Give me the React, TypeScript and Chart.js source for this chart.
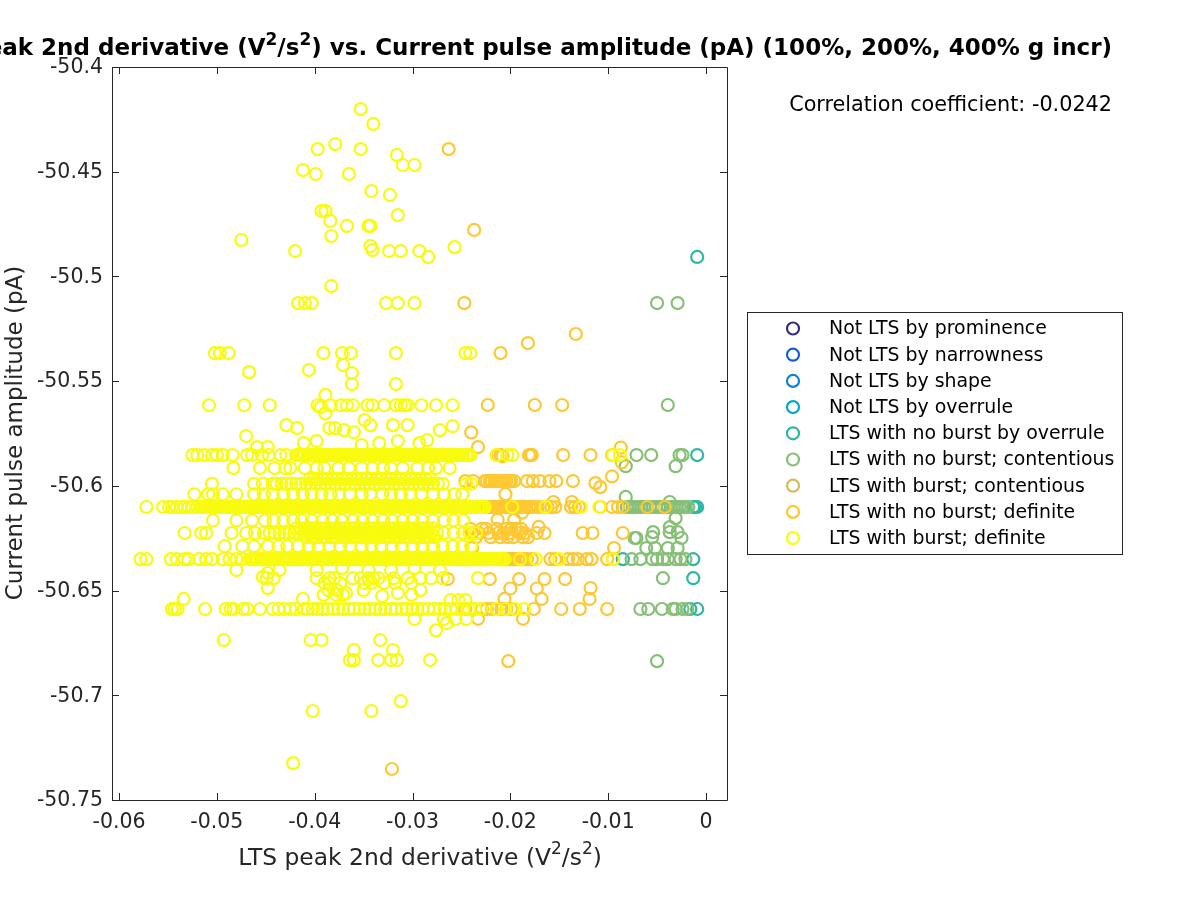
import React, { useEffect, useRef } from "react";
import { Chart, registerables } from "chart.js";
Chart.register(...registerables);

const FONT = '"DejaVu Sans"';
const seriesNames = ["Not LTS by prominence","Not LTS by narrowness","Not LTS by shape","Not LTS by overrule","LTS with no burst by overrule","LTS with no burst; contentious","LTS with burst; contentious","LTS with no burst; definite","LTS with burst; definite"];
const seriesColors = ["#352a87","#0f5cdd","#1481d6","#06a4ca","#2eb7a4","#87bf77","#d1bb59","#fec832","#f9fb0e"];
const xTickValues = [-0.06,-0.05,-0.04,-0.03,-0.02,-0.01,0];
const yTickValues = [-50.4,-50.45,-50.5,-50.55,-50.6,-50.65,-50.7,-50.75];

// burst; definite rows (y level, x values)
const yellowRow635 = [-.0578,-.0572,-.0547,-.0541,-.0533,-.0529,-.0518,-.0511,-.0505,-.0494,-.0487,-.048,-.0474,-.0466,-.0462,-.0458,-.0453,-.0449,-.0445,-.044,-.0436,-.0431,-.0427,-.0424,-.0419,-.0414,-.041,-.0406,-.0401,-.0397,-.0392,-.0388,-.0385,-.0379,-.0375,-.0371,-.0366,-.0362,-.0358,-.0353,-.0349,-.0345,-.034,-.0336,-.0332,-.0327,-.0323,-.0319,-.0314,-.031,-.0306,-.0301,-.0297,-.0293,-.0288,-.0284,-.028,-.0275,-.0271,-.0267,-.0262,-.0258,-.0254,-.0249,-.0245,-.0241,-.0236,-.0232,-.0228,-.0223,-.0219,-.0215,-.021,-.0206,-.019,-.0174,-.015,-.0095];
const yellowRow635b = [-.0464,-.046,-.0455,-.0451,-.0447,-.0442,-.0438,-.0433,-.0429,-.0425,-.0421,-.0416,-.0412,-.0408,-.0403,-.0399,-.0394,-.039,-.0386,-.0382,-.0377,-.0373,-.0368,-.0364,-.036,-.0355,-.0351,-.0347,-.0342,-.0338,-.0334,-.0329,-.0325,-.0321,-.0316,-.0312,-.0308,-.0303,-.0299,-.0295,-.029,-.0286,-.0282,-.0277,-.0273,-.0269,-.0264,-.026,-.0256,-.0251,-.0247,-.0243,-.0238,-.0234,-.023,-.0225,-.0221,-.0217,-.0212,-.0208];
const yellowRow611 = [-.0572,-.0555,-.0549,-.0546,-.0541,-.0537,-.0533,-.0529,-.0525,-.052,-.0516,-.0512,-.0507,-.0503,-.0499,-.0494,-.049,-.0486,-.0481,-.0477,-.0473,-.0468,-.0464,-.046,-.0455,-.0451,-.0447,-.0442,-.0438,-.0434,-.0429,-.0425,-.0421,-.0416,-.0412,-.0408,-.0403,-.0399,-.0395,-.039,-.0386,-.0382,-.0377,-.0373,-.0369,-.0364,-.036,-.0356,-.0351,-.0347,-.0343,-.0338,-.0334,-.033,-.0325,-.0321,-.0317,-.0312,-.0308,-.0304,-.0299,-.0295,-.0291,-.0286,-.0282,-.0278,-.0273,-.0269,-.0265,-.026,-.0256,-.0252,-.0247,-.0243,-.0239,-.0234,-.023,-.0226,-.0198,-.0164,-.0128,-.0109];
const yellowRow611b = [-.0514,-.051,-.0505,-.0501,-.0497,-.0492,-.0488,-.0484,-.0479,-.0475,-.0471,-.0466,-.0462,-.0458,-.0453,-.0449,-.0445,-.044,-.0436,-.0432,-.0427,-.0423,-.0419,-.0414,-.041,-.0406,-.0401,-.0397,-.0393,-.0388,-.0384,-.038,-.0375,-.0371,-.0367,-.0362,-.0358,-.0354,-.0349,-.0345,-.0341,-.0336,-.0332,-.0328,-.0323,-.0319,-.0315,-.031,-.0306,-.0302,-.0297,-.0293,-.0289,-.0284,-.028,-.0276,-.0271,-.0267,-.0263,-.0258,-.0254,-.025,-.0245,-.0241,-.0237,-.0232,-.0228];
const yellowRow586 = [-.0525,-.052,-.0513,-.0505,-.05,-.0494,-.0484,-.0469,-.0464,-.0454,-.0447,-.0435,-.0429,-.0419,-.0414,-.041,-.0405,-.0401,-.0396,-.0392,-.0387,-.0383,-.0378,-.0374,-.0369,-.0365,-.036,-.0356,-.0351,-.0347,-.0342,-.0338,-.0333,-.0329,-.0324,-.032,-.0315,-.0311,-.0306,-.0302,-.0297,-.0293,-.0288,-.0284,-.0279,-.0275,-.027,-.0266,-.0261,-.0257,-.0252,-.0248,-.0243,-.0214,-.0203,-.0198,-.0095,-.0088];
const yellowRow586b = [-.0416,-.0412,-.0407,-.0403,-.0398,-.0394,-.0389,-.0385,-.038,-.0376,-.0371,-.0367,-.0362,-.0358,-.0353,-.0349,-.0344,-.034,-.0335,-.0331,-.0326,-.0322,-.0317,-.0313,-.0308,-.0304,-.0299,-.0295,-.029,-.0286,-.0281,-.0277,-.0272,-.0268,-.0263,-.0259,-.0254,-.025,-.0245,-.0241];
const yellowRow598 = [-.0505,-.0462,-.0453,-.0443,-.0439,-.0434,-.0429,-.0424,-.0419,-.0414,-.0409,-.0404,-.0399,-.0394,-.0389,-.0384,-.0379,-.0374,-.0369,-.0364,-.0359,-.0354,-.0349,-.0344,-.0339,-.0334,-.0329,-.0324,-.0319,-.0314,-.0309,-.0304,-.0299,-.0294,-.0289,-.0284,-.0279,-.0274,-.0269,-.0245,-.024];
const yellowRow598b = [-.0405,-.0401,-.0397,-.0392,-.0387,-.0382,-.0377,-.0372,-.0367,-.0362,-.0357,-.0352,-.0347,-.0342,-.0337,-.0332,-.0327,-.0322,-.0317,-.0312,-.0307,-.0302,-.0297,-.0292,-.0287,-.0282];
const yellowRow622 = [-.0533,-.0516,-.0511,-.0485,-.047,-.0461,-.0452,-.0446,-.0441,-.0436,-.0431,-.0426,-.0421,-.0416,-.0411,-.0406,-.0401,-.0396,-.0391,-.0386,-.0381,-.0376,-.0371,-.0366,-.0361,-.0356,-.0351,-.0346,-.0341,-.0336,-.0331,-.0326,-.0321,-.0316,-.0311,-.0306,-.0301,-.0296,-.0291,-.0286,-.0281,-.0275,-.0268,-.0258,-.0248,-.0242,-.0235];
const yellowRow622b = [-.0419,-.0414,-.0409,-.0404,-.0399,-.0394,-.0389,-.0384,-.0379,-.0374,-.0369,-.0364,-.0359,-.0354,-.0349,-.0344,-.0339,-.0334,-.0329,-.0324,-.0319,-.0314,-.0309,-.0304,-.0299,-.0294,-.0289,-.0284,-.0279];
const yellowRow622c = [-.0408,-.0403,-.0398,-.0393,-.0388,-.0383,-.0378,-.0373,-.0368,-.0363,-.0358,-.0353,-.0348,-.0343,-.0338,-.0333,-.0328,-.0323,-.0318,-.0313,-.0308,-.0303,-.0298,-.0293,-.0288,-.0283,-.0278];
const yellowRow659 = [-.0546,-.0543,-.054,-.0512,-.0491,-.0486,-.0483,-.0473,-.0469,-.0456,-.0443,-.0437,-.0431,-.0425,-.0419,-.0411,-.0407,-.0402,-.0397,-.0392,-.0387,-.0381,-.0376,-.0371,-.0365,-.036,-.0354,-.0349,-.0344,-.0338,-.0333,-.0328,-.0322,-.0317,-.0311,-.0306,-.03,-.0295,-.029,-.0284,-.0278,-.0272,-.0267,-.0261,-.0255,-.0248,-.0242,-.0236,-.023,-.0214,-.0205,-.0195,-.0186];
const yellowRow561 = [-.0508,-.0472,-.0446,-.0397,-.0384,-.0373,-.0367,-.0361,-.0346,-.0341,-.0329,-.0317,-.0312,-.0308,-.0305,-.0291,-.0276,-.0259];
const yellowRow537 = [-.0502,-.0497,-.0488,-.0391,-.0372,-.0363,-.0317,-.0246,-.0241];
const yellowRow513 = [-.0417,-.041,-.0403,-.0327,-.0315,-.0298];
const yellowRow592 = [-.0483,-.0456,-.0441,-.043,-.0425,-.041,-.0398,-.039,-.0376,-.0365,-.0352,-.0341,-.033,-.0322,-.031,-.0295,-.0284,-.0276,-.0262];
const yellowRow604 = [-.0523,-.0509,-.0504,-.0494,-.048,-.0462,-.0452,-.0443,-.0432,-.0422,-.0412,-.0403,-.0393,-.0384,-.0375,-.0364,-.0352,-.0343,-.0331,-.0322,-.0312,-.0302,-.0291,-.0279,-.0268,-.0257,-.0249];
const yellowRow617 = [-.0504,-.048,-.0464,-.0451,-.0442,-.0432,-.0422,-.0413,-.0403,-.0392,-.0382,-.0372,-.0361,-.0351,-.0341,-.033,-.0321,-.031,-.03,-.029,-.0279,-.0268,-.0258,-.0248];
const yellowRow629 = [-.0492,-.0474,-.0462,-.0448,-.0437,-.0428,-.0417,-.0406,-.0396,-.0385,-.0374,-.0364,-.0352,-.0342,-.0332,-.0321,-.0311,-.03,-.029,-.0279,-.0269,-.0259,-.0249,-.024];
const yellowRow644 = [-.0449,-.0442,-.0398,-.0385,-.038,-.0361,-.0353,-.0345,-.034,-.0335,-.0319,-.0305,-.0292,-.0281,-.0269,-.0233];
const yellowRow646 = [-.039,-.0385,-.0374,-.0349,-.0342,-.0329,-.0318,-.0301];
const yellowRow652 = [-.0391,-.0378,-.0371,-.0301];
const yellowScatter = [[-.0353,-50.4201],[-.034,-50.4272],[-.0379,-50.4368],[-.0353,-50.4392],[-.0397,-50.4392],[-.0316,-50.442],[-.031,-50.4468],[-.0298,-50.4468],[-.0412,-50.4492],[-.0399,-50.4511],[-.0365,-50.4511],[-.0342,-50.4592],[-.0323,-50.4611],[-.0393,-50.4688],[-.0389,-50.4688],[-.0315,-50.4707],[-.0384,-50.4735],[-.0367,-50.4759],[-.0345,-50.4759],[-.0343,-50.4759],[-.0383,-50.4807],[-.0475,-50.4826],[-.0343,-50.4855],[-.0341,-50.4874],[-.042,-50.4879],[-.0324,-50.4879],[-.0312,-50.4879],[-.0293,-50.4879],[-.0284,-50.4907],[-.0257,-50.486],[-.0383,-50.5046],[-.0406,-50.5447],[-.0467,-50.5457],[-.0371,-50.5423],[-.0362,-50.5461],[-.0362,-50.5514],[-.0317,-50.5514],[-.0389,-50.5566],
[-.0429,-50.571],[-.0418,-50.5724],[-.047,-50.5762],[-.0459,-50.5815],[-.0448,-50.5815],[-.0385,-50.5724],[-.0379,-50.5724],[-.037,-50.5734],[-.036,-50.5744],[-.0349,-50.5686],[-.0343,-50.571],[-.032,-50.571],[-.0305,-50.571],[-.0285,-50.5782],[-.0272,-50.5734],[-.0259,-50.5715],[-.0389,-50.5654],[-.0394,-50.5624],[-.0398,-50.5786],[-.0411,-50.5796],[-.0352,-50.5805],[-.0334,-50.5796],[-.0315,-50.5786],[-.0293,-50.5796],
[-.048,-50.6402],[-.0453,-50.6435],[-.0448,-50.6416],[-.0436,-50.6402],[-.0448,-50.6488],[-.0398,-50.6402],[-.0372,-50.6392],[-.0345,-50.6402],[-.0322,-50.6402],[-.0298,-50.6392],[-.0272,-50.6402],[-.0534,-50.654],[-.0412,-50.654],[-.0386,-50.6498],[-.0377,-50.6498],[-.0368,-50.6512],[-.035,-50.6498],[-.0331,-50.6526],[-.0315,-50.6512],[-.0292,-50.6498],[-.0261,-50.6545],[-.0253,-50.6545],[-.0246,-50.6545],
[-.0298,-50.6636],[-.0268,-50.6636],[-.0256,-50.6636],[-.0245,-50.6636],[-.0276,-50.669],[-.0265,-50.6655],[-.0493,-50.6736],[-.0404,-50.6736],[-.0393,-50.6736],[-.0333,-50.6736],[-.036,-50.6784],[-.0364,-50.6832],[-.036,-50.6832],[-.0335,-50.6832],[-.0322,-50.6832],[-.0316,-50.6832],[-.0282,-50.6832],[-.032,-50.6784],[-.0402,-50.7075],[-.0342,-50.7075],[-.0312,-50.7028],[-.0422,-50.7324]];

// no burst; definite
const orangeRow611 = [-.0224,-.0222,-.022,-.0218,-.0216,-.0214,-.0212,-.021,-.0208,-.0206,-.0204,-.0202,-.02,-.0198,-.0196,-.0194,-.0192,-.019,-.0188,-.0186,-.0184,-.0181,-.0179,-.0177,-.0172,-.0166,-.0162,-.0158,-.0154,-.0138,-.0134,-.013,-.0108,-.0096,-.009,-.0085,-.006,-.0042];
const orangeRow635 = [-.0242,-.0237,-.0233,-.0228,-.0224,-.0219,-.0215,-.021,-.0208,-.0206,-.0204,-.0201,-.0199,-.0197,-.0195,-.0192,-.019,-.0188,-.0186,-.0183,-.0178,-.0159,-.0154,-.0141,-.0136,-.0131,-.0122,-.0117,-.0101,-.0095];
const orangeRow586 = [-.0213,-.021,-.0181,-.0179,-.0178,-.0146,-.0118,-.0096];
const orangeRow598 = [-.0246,-.0238,-.0226,-.0224,-.0221,-.0219,-.0216,-.0214,-.0211,-.0209,-.0206,-.0204,-.0201,-.0199,-.0196,-.0183,-.0177,-.017,-.016,-.0153,-.0136];
const orangeRow622 = [-.0248,-.0239,-.0232,-.0222,-.0212,-.0207,-.02,-.019,-.0185,-.0173,-.0165,-.0126,-.0116,-.0085];
const orangeRow620 = [-.0241,-.0229,-.0225,-.0214,-.0204,-.0199,-.0194,-.0189];
const orangeRow625 = [-.0235,-.022,-.021,-.0203,-.0197,-.0187,-.0182];
const orangeRow659 = [-.0246,-.0229,-.0224,-.0219,-.0214,-.0209,-.0204,-.0199,-.0176,-.0148,-.0129,-.0101];
const orangeScatter = [[-.0263,-50.4392],[-.0237,-50.4778],[-.0133,-50.5275],[-.0182,-50.5318],[-.021,-50.5366],[-.0223,-50.5614],[-.0175,-50.5614],[-.0147,-50.5614],[-.0247,-50.5127],[-.0321,-50.7352],[-.0202,-50.6837],[-.0087,-50.5817],[-.0086,-50.5888],[-.0096,-50.5955],[-.0108,-50.6006],[-.0113,-50.5987],[-.0156,-50.6077],[-.0137,-50.6077],[-.024,-50.5745],[-.0233,-50.5815],[-.0208,-50.5858],[-.0171,-50.6196],[-.0239,-50.6297],[-.0094,-50.6297],[-.0221,-50.6445],[-.0264,-50.6445],[-.0191,-50.6445],[-.0165,-50.6445],[-.02,-50.649],[-.0173,-50.649],[-.0118,-50.6488],[-.0168,-50.654],[-.0119,-50.654],[-.0206,-50.654],[-.0233,-50.6635],[-.0187,-50.6635],[-.0144,-50.6445],[-.0205,-50.604],[-.0213,-50.6162],[-.0196,-50.6162],[-.0188,-50.6128]];

// no burst; contentious
const greenRow611 = [-.0081,-.0078,-.0075,-.0072,-.0069,-.0066,-.0063,-.006,-.0057,-.0054,-.0051,-.0048,-.0045,-.0042,-.0039,-.0036,-.0033,-.003,-.0027,-.0024,-.0021,-.0018];
const greenRow635 = [-.0076,-.0067,-.0055,-.005,-.0044,-.0039,-.0031,-.0026,-.0021];
const greenRow659 = [-.0067,-.0059,-.0045,-.0034,-.0031,-.0024,-.0019];
const greenRow586 = [-.0071,-.0056,-.0027,-.0024];
const greenScatter = [[-.005,-50.5127],[-.0029,-50.5127],[-.0039,-50.5614],[-.005,-50.6837],[-.0082,-50.5906],[-.0031,-50.5906],[-.0082,-50.6053],[-.0031,-50.6154],[-.0037,-50.6077],[-.0073,-50.6249],[-.0071,-50.6249],[-.0054,-50.6221],[-.0055,-50.6245],[-.0037,-50.6197],[-.0037,-50.6221],[-.0029,-50.6221],[-.0025,-50.6249],[-.0061,-50.6297],[-.0052,-50.6297],[-.0039,-50.6297],[-.0029,-50.6297],[-.0044,-50.6441]];

// no burst by overrule
const tealRow611 = [-.0013,-.0011,-.0009];
const tealRow635 = [-.0085,-.0013];
const tealRow659 = [-.0016,-.0009];
const tealScatter = [[-.0009,-50.4907],[-.0009,-50.5853],[-.0013,-50.6441]];

const toPoints = (y: number, xs: number[]) => xs.map((x) => ({ x, y }));
const pairs = (list: number[][]) => list.map(([x, y]) => ({ x, y }));

const yellowData = [...toPoints(-50.5853,yellowRow586),...toPoints(-50.5853,yellowRow586b),...toPoints(-50.599,yellowRow598),...toPoints(-50.5967,yellowRow598b),...toPoints(-50.6101,yellowRow611),...toPoints(-50.6101,yellowRow611b),...toPoints(-50.6225,yellowRow622),...toPoints(-50.6203,yellowRow622b),...toPoints(-50.6245,yellowRow622c),...toPoints(-50.635,yellowRow635),...toPoints(-50.635,yellowRow635b),...toPoints(-50.6588,yellowRow659),...toPoints(-50.5615,yellowRow561),...toPoints(-50.5366,yellowRow537),...toPoints(-50.5127,yellowRow513),...toPoints(-50.5915,yellowRow592),...toPoints(-50.604,yellowRow604),...toPoints(-50.6165,yellowRow617),...toPoints(-50.6288,yellowRow629),...toPoints(-50.6441,yellowRow644),...toPoints(-50.6464,yellowRow646),...toPoints(-50.652,yellowRow652),...pairs(yellowScatter)];
const orangeData = [...toPoints(-50.6101,orangeRow611),...toPoints(-50.635,orangeRow635),...toPoints(-50.5853,orangeRow586),...toPoints(-50.5977,orangeRow598),...toPoints(-50.6225,orangeRow622),...toPoints(-50.6205,orangeRow620),...toPoints(-50.6245,orangeRow625),...toPoints(-50.6588,orangeRow659),...pairs(orangeScatter)];
const greenData = [...toPoints(-50.6101,greenRow611),...toPoints(-50.635,greenRow635),...toPoints(-50.6588,greenRow659),...toPoints(-50.5853,greenRow586),...pairs(greenScatter)];
const tealData = [...toPoints(-50.6101,tealRow611),...toPoints(-50.635,tealRow635),...toPoints(-50.6588,tealRow659),...pairs(tealScatter)];
const seriesData: { x: number; y: number }[][] = [[],[],[],[],tealData,greenData,[],orangeData,yellowData];

const INK = "#262626";

function drawSup(ctx: CanvasRenderingContext2D, parts: [string, boolean][], size: number, weight: string, anchor: "left"|"right"|"center", x: number, y: number) {
  const supSize = Math.round(size * 0.72);
  const w = (p: [string, boolean]) => { ctx.font = `${weight} ${p[1] ? supSize : size}px ${FONT}`; return ctx.measureText(p[0]).width; };
  const total = parts.reduce((a, p) => a + w(p), 0);
  let cx = anchor === "left" ? x : anchor === "right" ? x - total : x - total / 2;
  ctx.textAlign = "left";
  ctx.textBaseline = "alphabetic";
  for (const p of parts) {
    const pw = w(p);
    ctx.fillText(p[0], cx, p[1] ? y - size * 0.45 : y);
    cx += pw;
  }
}

const decor = {
  id: "decor",
  afterDatasetsDraw(chart: any) {
    const { ctx, chartArea: a, scales } = chart;
    ctx.save();
    ctx.strokeStyle = INK; ctx.lineWidth = 1; ctx.fillStyle = INK;
    ctx.beginPath();
    ctx.rect(a.left + .5, a.top + .5, a.right - a.left, a.bottom - a.top);
    for (const v of xTickValues) {
      const p = Math.round(scales.x.getPixelForValue(v)) + .5;
      ctx.moveTo(p, a.bottom); ctx.lineTo(p, a.bottom - 7);
      ctx.moveTo(p, a.top); ctx.lineTo(p, a.top + 7);
    }
    for (const v of yTickValues) {
      const p = Math.round(scales.y.getPixelForValue(v)) + .5;
      ctx.moveTo(a.left, p); ctx.lineTo(a.left + 7, p);
      ctx.moveTo(a.right, p); ctx.lineTo(a.right - 7, p);
    }
    ctx.stroke();

    ctx.fillStyle = "#000";
    drawSup(ctx, [["LTS peak 2nd derivative (V",false],["2",true],["/s",false],["2",true],[") vs. Current pulse amplitude (pA) (100%, 200%, 400% g incr)",false]], 23, "bold", "right", 1112, 55);

    ctx.fillStyle = INK;
    drawSup(ctx, [["LTS peak 2nd derivative (V",false],["2",true],["/s",false],["2",true],[")",false]], 23.4, "normal", "center", 420, 865);
    ctx.save();
    ctx.translate(22, 433); ctx.rotate(-Math.PI / 2);
    ctx.font = `23px ${FONT}`; ctx.textAlign = "center"; ctx.textBaseline = "alphabetic";
    ctx.fillText("Current pulse amplitude (pA)", 0, 0);
    ctx.restore();

    ctx.fillStyle = "#000";
    ctx.font = `20.75px ${FONT}`; ctx.textAlign = "right"; ctx.textBaseline = "alphabetic";
    ctx.fillText("Correlation coefficient: -0.0242", 1112, 111);

    ctx.strokeStyle = INK; ctx.lineWidth = 1;
    ctx.strokeRect(747.5, 312.5, 375, 242);
    ctx.textAlign = "left"; ctx.textBaseline = "middle";
    ctx.font = `18.9px ${FONT}`;
    seriesNames.forEach((name, i) => {
      const y = 328.5 + i * 26.2;
      ctx.beginPath();
      ctx.arc(793, y, 6, 0, Math.PI * 2);
      ctx.strokeStyle = seriesColors[i]; ctx.lineWidth = 2.2;
      ctx.stroke();
      ctx.fillStyle = "#000";
      ctx.fillText(name, 829, y + 1);
    });
    ctx.restore();
  },
};

export default function App() {
  const ref = useRef<HTMLCanvasElement>(null);
  useEffect(() => {
    document.body.style.margin = "0";
    const chart = new Chart(ref.current!, {
      type: "scatter",
      data: {
        datasets: seriesNames.map((label, i) => ({
          label,
          data: seriesData[i],
          order: 9 - i,
          pointStyle: "circle",
          pointRadius: 6,
          pointBorderWidth: 2.2,
          pointBorderColor: seriesColors[i],
          pointBackgroundColor: "transparent",
          showLine: false,
        })),
      },
      options: {
        responsive: false,
        animation: false,
        layout: { padding: { left: 0, top: 67, right: 473, bottom: 0 } },
        plugins: { legend: { display: false }, tooltip: { enabled: false }, title: { display: false } },
        scales: {
          x: {
            type: "linear", min: -0.06072, max: 0.00215,
            grid: { display: false }, border: { display: false },
            afterBuildTicks: (s: any) => { s.ticks = xTickValues.map((value) => ({ value })); },
            afterFit: (s: any) => { s.height = 100; },
            ticks: { color: INK, font: { family: FONT, size: 20.5 }, padding: 2, maxRotation: 0, autoSkip: false, callback: (v: any) => String(v) },
          },
          y: {
            type: "linear", min: -50.75, max: -50.4,
            grid: { display: false }, border: { display: false },
            afterBuildTicks: (s: any) => { s.ticks = yTickValues.map((value) => ({ value })); },
            afterFit: (s: any) => { s.width = 112; },
            ticks: { color: INK, font: { family: FONT, size: 20.5 }, padding: 1, labelOffset: 1, autoSkip: false, callback: (v: any) => String(v) },
          },
        },
      },
      plugins: [decor],
    } as any);
    return () => chart.destroy();
  }, []);
  return <canvas ref={ref} width={1200} height={900} style={{ display: "block", width: 1200, height: 900 }} />;
}
